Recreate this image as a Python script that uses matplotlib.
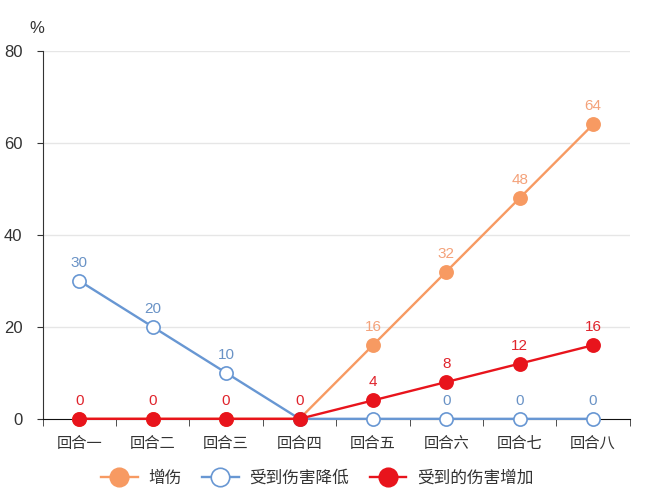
import matplotlib.pyplot as plt
import numpy as np

plt.rcParams['font.family'] = ['Liberation Sans', 'Noto Sans CJK SC']

rounds = ['回合一', '回合二', '回合三', '回合四', '回合五', '回合六', '回合七', '回合八']
dmgUp = [0, 0, 0, 0, 16, 32, 48, 64]
dmgTakenDown = [30, 20, 10, 0, 0, 0, 0, 0]
dmgTakenUp = [0, 0, 0, 0, 4, 8, 12, 16]
seriesNames = ['增伤', '受到伤害降低', '受到的伤害增加']
yTicks = [0, 20, 40, 60, 80]

fig = plt.figure(figsize=(6.56, 5.04), dpi=100)
ax = fig.add_axes([0.065, 0.169, 0.895, 0.730])
x = np.arange(len(rounds))

# orange, blue, red (red drawn last so it sits on top)
styles = [
    (dmgUp, '#f79a62', '#f79a62', '#f4a27a'),
    (dmgTakenDown, '#6897d3', 'white', '#6a93c6'),
    (dmgTakenUp, '#e8141c', '#e8141c', '#e0242c'),
]
# labels that overlap other marks are hidden in the original
hidden = [{0, 1, 2, 3}, {3, 4}, set()]
for i, (vals, col, face, labCol) in enumerate(styles):
    ax.plot(x, vals, color=col, lw=1.7, marker='o', markersize=9.5,
            markerfacecolor=face, markeredgecolor=col, markeredgewidth=1.2,
            label=seriesNames[i], zorder=3 + i, clip_on=False)
    for xi, v in zip(x, vals):
        if xi in hidden[i]:
            continue
        ax.annotate(str(v), (xi, v), xytext=(0, 8), textcoords='offset points',
                    ha='center', va='bottom', fontsize=11, color=labCol,
                    zorder=6 + i)

ax.set_xlim(-0.5, 7.5)
ax.set_ylim(0, 80)
ax.set_yticks(yTicks)
ax.set_xticks(x)
ax.set_xticklabels(rounds, fontsize=11)
ax.set_xticks(np.arange(-0.5, 8, 1), minor=True)
ax.tick_params(axis='x', which='major', length=0, pad=13, colors='#333333')
ax.tick_params(axis='x', which='minor', length=5, color='#333333')
ax.tick_params(axis='y', length=4.5, labelsize=12, colors='#333333', pad=10)
for t in yTicks[1:]:
    ax.axhline(t, color='#e6e6e6', lw=1, zorder=0)
for s in ['top', 'right']:
    ax.spines[s].set_visible(False)
ax.spines['left'].set_color('#333333')
ax.spines['bottom'].set_color('#111111')
ax.annotate('%', (0, 1), xycoords='axes fraction', xytext=(-4, 11),
            textcoords='offset points', ha='center', va='bottom',
            fontsize=12, color='#333333')

leg = fig.legend(loc='center left', bbox_to_anchor=(0.154, 0.052), ncol=3, frameon=False,
                 fontsize=12, handlelength=2.2, columnspacing=1.22, handletextpad=0.65,
                 markerscale=1.4, borderaxespad=0, borderpad=0)
for t in leg.get_texts():
    t.set_color('#333333')

fig.savefig('out.png', dpi=100)
